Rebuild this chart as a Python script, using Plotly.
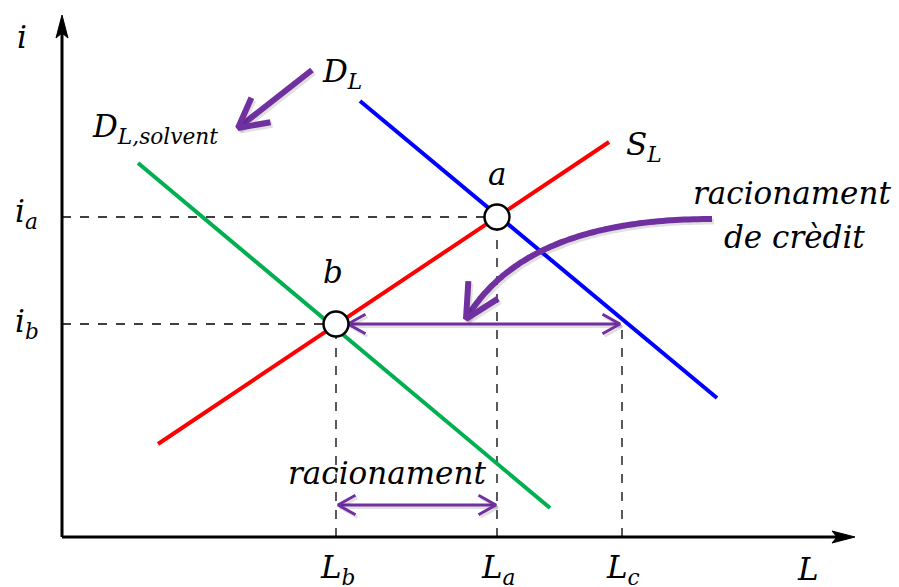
import numpy as np
import plotly.graph_objects as go

# ---- Data (loan market diagram; units: L on x, i on y) ----
L_b, L_a, L_c = 27.4, 43.5, 56.0
i_a, i_b = 32.0, 21.3

D_L_x = [29.8, 65.5]
D_L_y = [43.6, 13.9]
S_L_x = [9.6, 54.7]
S_L_y = [9.3, 39.5]
D_solv_x = [7.6, 48.8]
D_solv_y = [37.4, 2.9]

x_axis_end = 79.3
y_axis_end = 52.2

shift_tail = [25.0, 46.7]     # arrow D_L -> D_L,solvent
shift_tip = [17.6, 40.9]

curve_start = [65.0, 31.8]    # curved arrow "racionament de crèdit"
curve_ctrl = [46.3, 31.8]
curve_tip = [40.4, 21.8]

gap_arrow_x = [28.6, 55.8]    # credit gap arrow at i_b
ration_arrow_x = [27.6, 43.4]  # bottom arrow
ration_arrow_y = 3.2

tick_labels = ["L<sub>b</sub>", "L<sub>a</sub>", "L<sub>c</sub>"]
tick_x = [L_b, L_a, L_c]

PURPLE = "#7030A0"
FONT = "DejaVu Serif"
FS = 31

fig = go.Figure()


def line(xs, ys, color, width, dash=None, shape="linear"):
    fig.add_trace(go.Scatter(x=xs, y=ys, mode="lines",
                             line=dict(color=color, width=width, dash=dash, shape=shape),
                             hoverinfo="skip", showlegend=False))


def chevron(tip, direction, length, half_angle_deg):
    d = np.array(direction, dtype=float)
    d = d / np.linalg.norm(d)
    back = -d
    out = []
    for s in (1, -1):
        a = np.radians(s * half_angle_deg)
        rot = np.array([[np.cos(a), -np.sin(a)], [np.sin(a), np.cos(a)]])
        out.append(np.array(tip) + rot @ back * length)
    return out


def arrow_head(tip, direction, length, half_angle, color, width, shadow=True):
    a1, a2 = chevron(tip, direction, length, half_angle)
    xs = [a1[0], tip[0], a2[0]]
    ys = [a1[1], tip[1], a2[1]]
    if shadow:
        line([v + 0.2 for v in xs], [v - 0.25 for v in ys], "rgba(0,0,0,0.12)", width)
    line(xs, ys, color, width)


def shaft(xs, ys, color, width, shadow=True, shape="linear"):
    if shadow:
        line([v + 0.2 for v in xs], [v - 0.25 for v in ys], "rgba(0,0,0,0.12)", width, shape=shape)
    line(xs, ys, color, width, shape=shape)


# dashed guides
line([0, L_a], [i_a, i_a], "black", 1.3, "dash")
line([0, L_b], [i_b, i_b], "black", 1.3, "dash")
line([L_b, L_b], [0, i_b], "black", 1.3, "dash")
line([L_a, L_a], [0, i_a], "black", 1.3, "dash")
line([L_c, L_c], [0, i_b], "black", 1.3, "dash")

# curves
line(D_solv_x, D_solv_y, "#00B050", 4)
line(S_L_x, S_L_y, "#FF0000", 4)
line(D_L_x, D_L_y, "#0000FF", 4)

# axes
line([0, 0], [0, y_axis_end - 1.5], "black", 3)
line([0, x_axis_end - 1.5], [0, 0], "black", 3)
fig.add_trace(go.Scatter(x=[0, -0.6, 0, 0.6, 0], y=[y_axis_end, y_axis_end - 2.3, y_axis_end - 1.8, y_axis_end - 2.3, y_axis_end],
                         mode="lines", fill="toself", fillcolor="black", line=dict(color="black", width=1),
                         hoverinfo="skip", showlegend=False))
fig.add_trace(go.Scatter(x=[x_axis_end, x_axis_end - 2.3, x_axis_end - 1.8, x_axis_end - 2.3, x_axis_end], y=[0, 0.6, 0, -0.6, 0],
                         mode="lines", fill="toself", fillcolor="black", line=dict(color="black", width=1),
                         hoverinfo="skip", showlegend=False))

# horizontal purple double arrows
shaft(gap_arrow_x, [i_b, i_b], PURPLE, 3)
arrow_head([gap_arrow_x[0], i_b], [-1, 0], 2.0, 29, PURPLE, 3)
arrow_head([gap_arrow_x[1], i_b], [1, 0], 2.0, 29, PURPLE, 3)
shaft(ration_arrow_x, [ration_arrow_y] * 2, PURPLE, 3)
arrow_head([ration_arrow_x[0], ration_arrow_y], [-1, 0], 2.0, 29, PURPLE, 3)
arrow_head([ration_arrow_x[1], ration_arrow_y], [1, 0], 2.0, 29, PURPLE, 3)

# D_L shift arrow
shaft([shift_tail[0], shift_tip[0]], [shift_tail[1], shift_tip[1]], PURPLE, 6)
arrow_head(shift_tip, [shift_tip[0] - shift_tail[0], shift_tip[1] - shift_tail[1]], 3.3, 28, PURPLE, 6)

# curved arrow (quadratic Bezier through the three read-off control points)
t = np.linspace(0, 1, 80)
P0, P1, P2 = np.array(curve_start), np.array(curve_ctrl), np.array(curve_tip)
bez = np.outer((1 - t) ** 2, P0) + np.outer(2 * (1 - t) * t, P1) + np.outer(t ** 2, P2)
shaft(list(bez[:, 0]), list(bez[:, 1]), PURPLE, 6, shape="spline")
arrow_head(curve_tip, P2 - P1, 3.8, 27, PURPLE, 6)

# equilibrium points
fig.add_trace(go.Scatter(x=[L_a, L_b], y=[i_a, i_b], mode="markers",
                         marker=dict(size=25, color="white", line=dict(color="black", width=2.5)),
                         hoverinfo="skip", showlegend=False))

# labels
labels = [
    ("i", -4.0, 50.0),
    ("i<sub>a</sub>", -3.6, 32.4),
    ("i<sub>b</sub>", -3.5, 21.4),
    ("D<sub>L</sub>", 28.0, 46.4),
    ("D<sub>L,solvent</sub>", 9.3, 40.9),
    ("S<sub>L</sub>", 58.2, 39.1),
    ("a", L_a, 36.3),
    ("b", L_b - 0.3, 26.5),
    ("racionament", 73.0, 34.4),
    ("de crèdit", 73.2, 30.0),
    ("racionament", 32.5, 6.4),
    ("L", 74.6, -3.2),
]
for txt, x, y in labels:
    fig.add_annotation(x=x, y=y, text=txt, showarrow=False, xanchor="center", yanchor="middle",
                       font=dict(family=FONT, size=FS, color="black", style="italic"))
for txt, x in zip(tick_labels, tick_x):
    fig.add_annotation(x=x + 0.1, y=-3.2, text=txt, showarrow=False, xanchor="center", yanchor="middle",
                       font=dict(family=FONT, size=FS, color="black", style="italic"))

fig.update_layout(
    width=899, height=587, margin=dict(l=0, r=0, t=0, b=0),
    paper_bgcolor="white", plot_bgcolor="white",
    xaxis=dict(range=[-6.2, 83.7], visible=False, fixedrange=True),
    yaxis=dict(range=[-5.0, 53.7], visible=False, fixedrange=True),
    showlegend=False,
)
fig.write_html("out.html", config={"displayModeBar": False},
               post_script="document.body.style.margin='0';document.body.style.overflow='hidden';")
